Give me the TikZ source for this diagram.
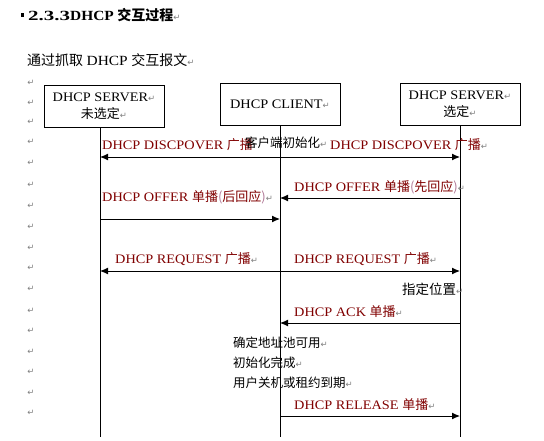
\documentclass[tikz,border=0pt]{standalone}
\usepackage{fontspec}
\setmainfont{Liberation Serif}
\newfontfamily\lat[FakeStretch=1.1]{Liberation Serif}
\newfontfamily\latwide[FakeStretch=1.5]{Liberation Serif}
\newfontfamily\cjk{Noto Sans CJK SC}
\newfontfamily\symfont{DejaVu Sans}
\usetikzlibrary{arrows.meta}
\definecolor{msgred}{HTML}{800000}
\definecolor{parcol}{HTML}{B07A98}
\definecolor{markgray}{HTML}{808080}
\newcommand{\retmark}{{\symfont\fontsize{8.5}{9}\selectfont\color{markgray}↵}}
\newcommand{\zh}[1]{{\cjk #1}}
\newcommand{\pr}[1]{{\color{parcol}#1}}
\tikzset{
  boxnode/.style={draw, line width=1pt, inner sep=0pt, minimum width=120pt, minimum height=42pt,
    align=center, font=\fontsize{13}{18}\selectfont\lat},
  lifeline/.style={line width=1pt},
  msg/.style={line width=1pt, -{Latex[length=8pt,width=7pt]}},
  lbl/.style={anchor=west, inner sep=0pt, text=msgred, font=\fontsize{13}{15}\selectfont\lat},
  note/.style={anchor=west, inner sep=0pt, text=black, font=\fontsize{12.5}{15}\selectfont\cjk},
  pmark/.style={inner sep=0pt}
}
\begin{document}
\begin{tikzpicture}[x=1pt,y=-1pt]
\useasboundingbox (0,0) rectangle (544,440);
% title
\fill (21,13) rectangle (24,17);
\node[anchor=west, inner sep=0pt, font=\fontsize{14}{16}\selectfont] (title) at (28,15)
  {{\bfseries\latwide 2.3.3}{\bfseries\lat DHCP} {\cjk\bfseries 交互过程}\retmark};
\node[anchor=west, inner sep=0pt, font=\fontsize{14}{16}\selectfont] (intro) at (27,60)
  {\zh{通过抓取} {\lat DHCP} \zh{交互报文}\retmark};
% paragraph marks in the left margin
\foreach \yy [count=\i] in {83,103,122,142,163,185,206,227,248,268,289,311,331,352,372,393,413}
  \node[pmark] (pm\i) at (31,\yy) {\retmark};
% boxes
\node[boxnode] (srvA) at (104,106) {DHCP SERVER\retmark\\[-1pt]\zh{未选定}\retmark};
\node[boxnode] (cli) at (280,104) {DHCP CLIENT\retmark};
\node[boxnode] (srvB) at (460,104) {DHCP SERVER\retmark\\[-1pt]\zh{选定}\retmark};
% lifeline ends
\coordinate (endA) at (100,437);
\coordinate (endC) at (280,437);
\coordinate (endB) at (460,437);
\draw[lifeline] (srvA.south -| endA) -- (endA);
\draw[lifeline] (cli.south) -- (endC);
\draw[lifeline] (srvB.south) -- (endB);
% message anchor points
\foreach \nm/\yy in {d/157, o/198, p/219, r/271, k/323, e/416}{
  \coordinate (A\nm) at (100,\yy);
  \coordinate (C\nm) at (280,\yy);
  \coordinate (B\nm) at (460,\yy);
}
% messages
\draw[msg] (Cd) -- (Ad);
\draw[msg] (Cd) -- (Bd);
\draw[msg] (Bo) -- (Co);
\draw[msg] (Ap) -- (Cp);
\draw[msg] (Cr) -- (Ar);
\draw[msg] (Cr) -- (Br);
\draw[msg] (Bk) -- (Ck);
\draw[msg] (Ce) -- (Be);
% labels
\node[lbl] (l1) at (102,145) {DHCP DISCPOVER \zh{广播}};
\node[note] (n1) at (245,143) {客户端初始化\retmark};
\node[lbl] (l2) at (330,145) {DHCP DISCPOVER \zh{广播}\retmark};
\node[lbl] (l3) at (294,187) {DHCP OFFER \zh{单播\pr{(}先回应\pr{)}}\retmark};
\node[lbl] (l4) at (102,197) {DHCP OFFER \zh{单播\pr{(}后回应\pr{)}}\retmark};
\node[lbl] (l5) at (115,259) {DHCP REQUEST \zh{广播}\retmark};
\node[lbl] (l6) at (294,259) {DHCP REQUEST \zh{广播}\retmark};
\node[note, font=\fontsize{13.5}{15}\selectfont\cjk] (n2) at (402,289) {指定位置\retmark};
\node[lbl] (l7) at (294,312) {DHCP ACK \zh{单播}\retmark};
\node[note] (n3) at (233,343) {确定地址池可用\retmark};
\node[note] (n4) at (233,363) {初始化完成\retmark};
\node[note] (n5) at (233,383) {用户关机或租约到期\retmark};
\node[lbl] (l8) at (294,405) {DHCP RELEASE \zh{单播}\retmark};
\end{tikzpicture}
\end{document}
